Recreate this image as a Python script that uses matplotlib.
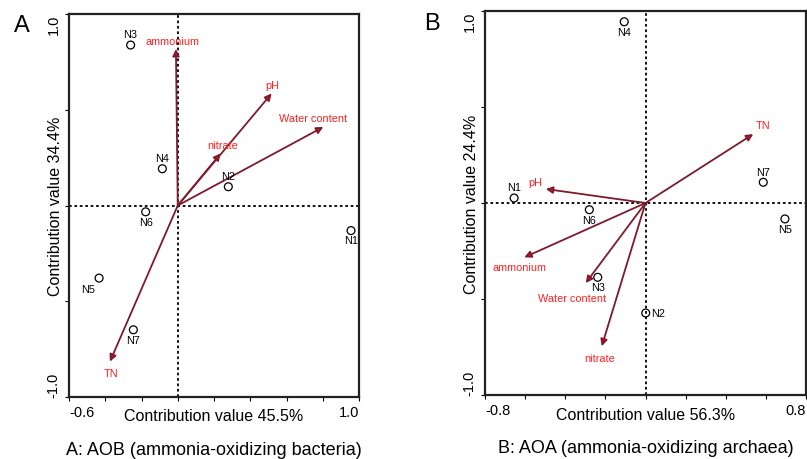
import matplotlib.pyplot as plt

plt.rcParams["font.family"] = ["Liberation Sans", "DejaVu Sans"]

# Panel A: AOB
a_sites = ["N1", "N2", "N3", "N4", "N5", "N6", "N7"]
a_site_x = [0.956, 0.279, -0.26, -0.085, -0.434, -0.177, -0.245]
a_site_y = [-0.131, 0.098, 0.838, 0.192, -0.379, -0.033, -0.649]
a_site_pos = ["below", "above", "above", "above", "lowerleft", "below", "below"]

a_vars = ["ammonium", "pH", "Water content", "nitrate", "TN"]
a_var_x = [-0.01, 0.518, 0.803, 0.237, -0.374]
a_var_y = [0.817, 0.585, 0.41, 0.272, -0.815]
a_lab_x = [-0.03, 0.52, 0.745, 0.248, -0.37]
a_lab_y = [0.857, 0.63, 0.459, 0.316, -0.873]

# Panel B: AOA
b_sites = ["N1", "N2", "N3", "N4", "N5", "N6", "N7"]
b_site_x = [-0.655, 0.001, -0.238, -0.106, 0.695, -0.28, 0.587]
b_site_y = [0.026, -0.573, -0.387, 0.944, -0.083, -0.035, 0.108]
b_site_pos = ["above", "right", "below", "below", "below", "below", "above"]

b_vars = ["TN", "pH", "ammonium", "Water content", "nitrate"]
b_var_x = [0.537, -0.497, -0.604, -0.298, -0.218]
b_var_y = [0.359, 0.073, -0.283, -0.417, -0.746]
b_lab_x = [0.587, -0.547, -0.626, -0.368, -0.227]
b_lab_y = [0.406, 0.108, -0.332, -0.495, -0.809]

line_col = "#7d1a2c"
text_red = "#ff2020"
fs_small = 7.8


def draw_panel(ax, xlim, sites, sx, sy, spos, vars_, vx, vy, lx, ly,
               xlabel, ylabel, letter, caption):
    ax.set_xlim(*xlim)
    ax.set_ylim(-1.0, 1.0)
    ax.axvline(0, color="black", ls=(0, (1.5, 1.5)), lw=1.3, zorder=1)
    ax.axhline(0, color="black", ls=(0, (1.5, 1.5)), lw=1.3, zorder=1)

    for x, y, tx, ty, name in zip(vx, vy, lx, ly, vars_):
        ax.annotate("", xy=(x, y), xytext=(0, 0),
                    arrowprops=dict(arrowstyle="-|>", color=line_col, lw=1.3,
                                    mutation_scale=10, shrinkA=0, shrinkB=0,
                                    fc="#d0102a"), zorder=3)
        ax.text(tx, ty, name, color=text_red, fontsize=fs_small,
                ha="center", va="center", zorder=4)

    ax.scatter(sx, sy, s=32, marker="o", facecolors="none",
               edgecolors="black", linewidths=0.9, zorder=5)
    for x, y, name, pos in zip(sx, sy, sites, spos):
        if pos == "above":
            ax.annotate(name, (x, y), xytext=(0, 4), textcoords="offset points",
                        ha="center", va="bottom", fontsize=fs_small)
        elif pos == "below":
            ax.annotate(name, (x, y), xytext=(0, -3.5), textcoords="offset points",
                        ha="center", va="top", fontsize=fs_small)
        elif pos == "right":
            ax.annotate(name, (x, y), xytext=(4, 0), textcoords="offset points",
                        ha="left", va="center", fontsize=fs_small)
        else:
            ax.annotate(name, (x, y), xytext=(-3, -4), textcoords="offset points",
                        ha="right", va="top", fontsize=fs_small)

    ax.set_xticks([xlim[0] + 0.2 * i for i in range(9)])
    xt = [""] * 9
    xt[0] = f"{xlim[0]:.1f}"
    xt[-1] = f"{xlim[1]:.1f}"
    ax.set_xticklabels(xt, fontsize=10.5)
    labs = ax.get_xticklabels()
    labs[0].set_ha("left")
    labs[-1].set_ha("right")

    ax.set_yticks([-1.0, -0.5, 0, 0.5, 1.0])
    ax.set_yticklabels(["-1.0", "", "", "", "1.0"], fontsize=10.5, rotation=90)
    ylabs = ax.get_yticklabels()
    ylabs[0].set_va("bottom")
    ylabs[-1].set_va("top")
    ax.tick_params(axis="both", direction="out", length=3, width=0.8,
                   pad=3, colors="black")

    for sp in ax.spines.values():
        sp.set_linewidth(1.6)
        sp.set_color("#222222")

    ax.set_xlabel(xlabel, fontsize=11.5)
    ax.xaxis.set_label_coords(0.5, -0.03)
    ax.set_ylabel(ylabel, fontsize=11.5)
    ax.yaxis.set_label_coords(-0.02, 0.5)

    ax.text(-0.19, 0.97, letter, transform=ax.transAxes, fontsize=17,
            ha="left", va="center")
    ax.text(0.5, -0.138, caption, transform=ax.transAxes, fontsize=13,
            ha="center", va="center")


fig = plt.figure(figsize=(8.07, 4.6), dpi=100)
W, H = 807, 460
ax1 = fig.add_axes([69 / W, 1 - 398 / H, 290 / W, 383 / H])
ax2 = fig.add_axes([485 / W, 1 - 396 / H, 321 / W, 384 / H])

draw_panel(ax1, (-0.6, 1.0), a_sites, a_site_x, a_site_y, a_site_pos,
           a_vars, a_var_x, a_var_y, a_lab_x, a_lab_y,
           "Contribution value 45.5%", "Contribution value 34.4%", "A",
           "A: AOB (ammonia-oxidizing bacteria)")
draw_panel(ax2, (-0.8, 0.8), b_sites, b_site_x, b_site_y, b_site_pos,
           b_vars, b_var_x, b_var_y, b_lab_x, b_lab_y,
           "Contribution value 56.3%", "Contribution value 24.4%", "B",
           "B: AOA (ammonia-oxidizing archaea)")

fig.savefig("out.png", dpi=100)
